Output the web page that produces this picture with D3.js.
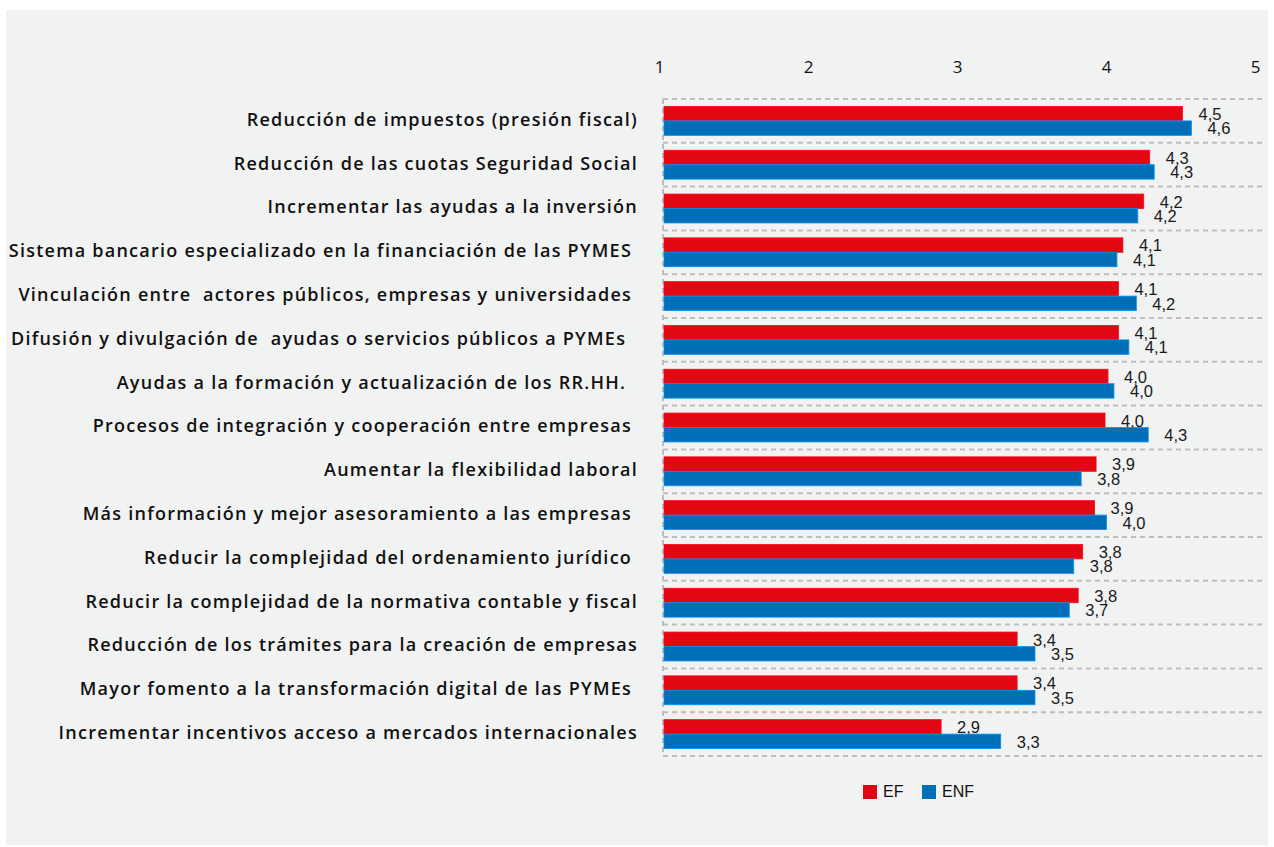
<!DOCTYPE html>
<html>
<head>
<meta charset="utf-8">
<script src="https://cdn.jsdelivr.net/npm/d3@7"></script>
<style>
  html, body { margin: 0; padding: 0; background: #ffffff; }
  svg { display: block; }
  .cat { white-space: pre; }
</style>
</head>
<body>
<svg id="chart" width="1274" height="847"></svg>
<script>
// Medidas prioritarias: valoración media (escala 1-5) por tipo de empresa
const categories = [
  "Reducción de impuestos (presión fiscal)",
  "Reducción de las cuotas Seguridad Social",
  "Incrementar las ayudas a la inversión",
  "Sistema bancario especializado en la financiación de las PYMES ",
  "Vinculación entre  actores públicos, empresas y universidades ",
  "Difusión y divulgación de  ayudas o servicios públicos a PYMEs  ",
  "Ayudas a la formación y actualización de los RR.HH.  ",
  "Procesos de integración y cooperación entre empresas ",
  "Aumentar la flexibilidad laboral",
  "Más información y mejor asesoramiento a las empresas ",
  "Reducir la complejidad del ordenamiento jurídico ",
  "Reducir la complejidad de la normativa contable y fiscal",
  "Reducción de los trámites para la creación de empresas",
  "Mayor fomento a la transformación digital de las PYMEs ",
  "Incrementar incentivos acceso a mercados internacionales"
];
const seriesNames = ["EF", "ENF"];
const valuesEF  = [4.50, 4.28, 4.24, 4.10, 4.07, 4.07, 4.00, 3.98, 3.92, 3.91, 3.83, 3.80, 3.39, 3.39, 2.88];
const valuesENF = [4.56, 4.31, 4.20, 4.06, 4.19, 4.14, 4.04, 4.27, 3.82, 3.99, 3.77, 3.74, 3.51, 3.51, 3.28];
const axisTicks = [1, 2, 3, 4, 5];
const colors = ["#e30613", "#006fb8"];

const svg = d3.select("#chart");

// panel background
svg.append("rect")
  .attr("x", 6).attr("y", 10).attr("width", 1262).attr("height", 835)
  .attr("fill", "#f1f2f2");

const x = d3.scaleLinear().domain([1, 5]).range([661, 1257]);
const y = d3.scaleBand().domain(d3.range(categories.length))
  .range([99, 756]).paddingInner(0.34).paddingOuter(0.17);
const ySub = d3.scaleBand().domain(seriesNames).range([0, y.bandwidth()]);
const barInset = 3;
const rowStep = y.step();
const gridTop = y(0) - y.paddingOuter() * rowStep;

// dashed row separators
const grid = svg.append("g").attr("stroke", "#bdbdbd").attr("stroke-width", 2)
  .attr("stroke-dasharray", "5,4");
grid.selectAll("line.row")
  .data(d3.range(categories.length + 1))
  .join("line")
  .attr("class", "row")
  .attr("x1", x(1) + barInset - 1).attr("x2", 1262)
  .attr("y1", i => gridTop + i * rowStep)
  .attr("y2", i => gridTop + i * rowStep);
grid.append("line")
  .attr("x1", x(1) + barInset - 1).attr("x2", x(1) + barInset - 1)
  .attr("y1", gridTop).attr("y2", gridTop + categories.length * rowStep);

// top value axis labels
const axis = d3.axisTop(x).tickValues(axisTicks).tickSize(0).tickFormat(d3.format("d"));
const gAxis = svg.append("g").attr("transform", "translate(-2,76)").call(axis);
gAxis.select(".domain").remove();
gAxis.selectAll("text")
  .attr("font-family", "'Open Sans', sans-serif")
  .attr("font-weight", 500)
  .attr("font-size", 17).attr("fill", "#111");

// bars
const seriesData = [valuesEF, valuesENF];
const fmt = v => d3.format(".1f")(v).replace(".", ",");
seriesNames.forEach((name, s) => {
  const g = svg.append("g");
  g.selectAll("rect")
    .data(seriesData[s])
    .join("rect")
    .attr("x", x(1) + barInset)
    .attr("y", (d, i) => y(i) + ySub(name))
    .attr("width", d => x(d) - x(1) - barInset)
    .attr("height", ySub.bandwidth())
    .attr("fill", colors[s])
    .attr("stroke", d3.color(colors[s]).brighter(0.8))
    .attr("stroke-width", 0.8);
  g.selectAll("text")
    .data(seriesData[s])
    .join("text")
    .attr("x", d => x(d) + 16)
    .attr("y", (d, i) => y(i) + ySub(name) + ySub.bandwidth() / 2 + 2)
    .attr("dominant-baseline", "middle")
    .attr("font-family", "Liberation Sans, Arial, sans-serif")
    .attr("font-size", 16.5)
    .attr("fill", "#1a1a1a")
    .text(d => fmt(d));
});

// category labels
svg.append("g").selectAll("text")
  .data(categories)
  .join("text")
  .attr("class", "cat")
  .attr("x", 638)
  .attr("y", (d, i) => y(i) + y.bandwidth() / 2)
  .attr("dominant-baseline", "middle")
  .attr("text-anchor", "end")
  .attr("font-family", "'Open Sans', sans-serif")
  .attr("font-weight", 600)
  .attr("font-size", 18)
  .attr("letter-spacing", 1.25)
  .attr("fill", "#111")
  .text(d => d);

// legend
const legend = svg.append("g").attr("transform", "translate(863,785)");
const legendX = d3.scalePoint().domain(seriesNames).range([0, 59]);
seriesNames.forEach((name, s) => {
  const lg = legend.append("g").attr("transform", `translate(${legendX(name)},0)`);
  lg.append("rect").attr("width", 14).attr("height", 14).attr("fill", colors[s]);
  lg.append("text").attr("x", 20).attr("y", 7.5)
    .attr("dominant-baseline", "middle")
    .attr("font-family", "Liberation Sans, Arial, sans-serif")
    .attr("font-size", 16).attr("fill", "#111")
    .text(name);
});
</script>
</body>
</html>
